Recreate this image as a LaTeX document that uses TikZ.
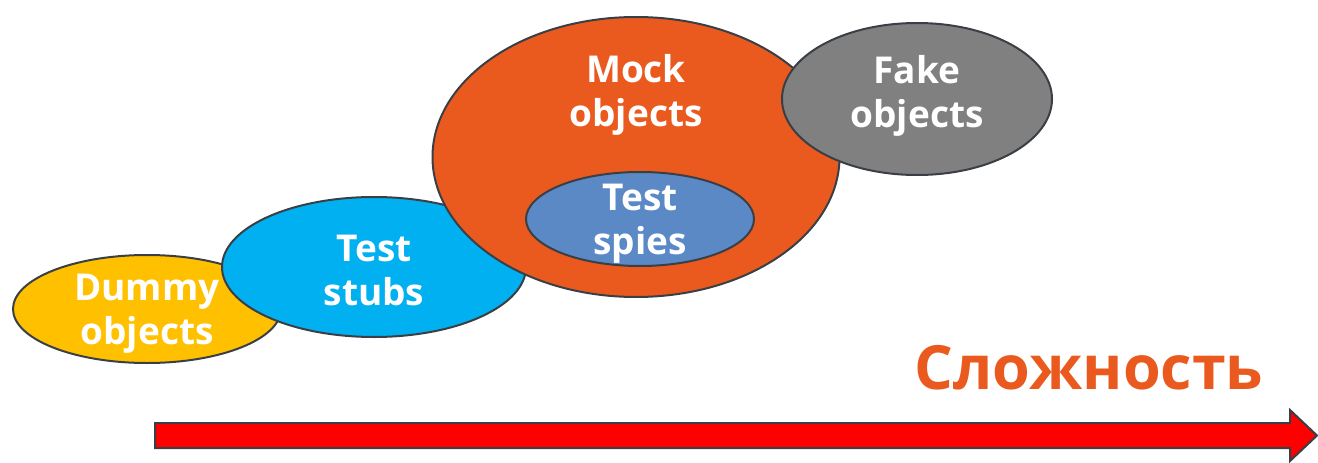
\documentclass[tikz,border=0pt]{standalone}
\usepackage{fontspec}
\setmainfont{Open Sans}
\usetikzlibrary{shapes.geometric}
\definecolor{edgec}{HTML}{3A3F45}
\definecolor{dummyc}{HTML}{FFC000}
\definecolor{stubc}{HTML}{00B0F0}
\definecolor{mockc}{HTML}{EA5A1F}
\definecolor{spyc}{HTML}{5A89C6}
\definecolor{fakec}{HTML}{808080}
\definecolor{arrowc}{HTML}{FF0000}

\begin{document}
\begin{tikzpicture}[x=1pt,y=-1pt,
    blob/.style={ellipse, draw=edgec, line width=2pt, inner sep=0pt},
    lbl/.style={text=white, font=\fontsize{37}{44}\selectfont\bfseries, align=center}]
  \useasboundingbox (0,0) rectangle (1318,463);
  % ellipses, back to front
  \node[blob, fill=dummyc, minimum width=268pt, minimum height=108pt] (dummy) at (147,309) {};
  \node[lbl] (dummytxt) at (147,314) {Dummy\\objects};
  \node[blob, fill=stubc, minimum width=304pt, minimum height=140pt] (stubs) at (374,267) {};
  \node[lbl] (stubstxt) at (374,270) {Test\\stubs};
  \node[blob, fill=mockc, minimum width=407pt, minimum height=280pt] (mock) at (636,157) {};
  \node[lbl] (mocktxt) at (636,95) {Mock\\objects};
  \node[blob, fill=spyc, minimum width=228pt, minimum height=94pt] (spies) at (640,219) {};
  \node[lbl] (spiestxt) at (640,224) {Test\\spies};
  \node[blob, fill=fakec, minimum width=270pt, minimum height=152pt] (fake) at (917,99) {};
  \node[lbl] (faketxt) at (917,96) {Fake\\objects};
  % axis
  \node[text=mockc, font=\fontsize{61}{64}\selectfont\bfseries] (axis) at (1089,368) {Сложность};
  \draw[fill=arrowc, draw=edgec, line width=2pt]
    (155,423) -- (1290,423) -- (1290,410) -- (1317,435.5) -- (1290,461) -- (1290,448) -- (155,448) -- cycle;
\end{tikzpicture}
\end{document}
